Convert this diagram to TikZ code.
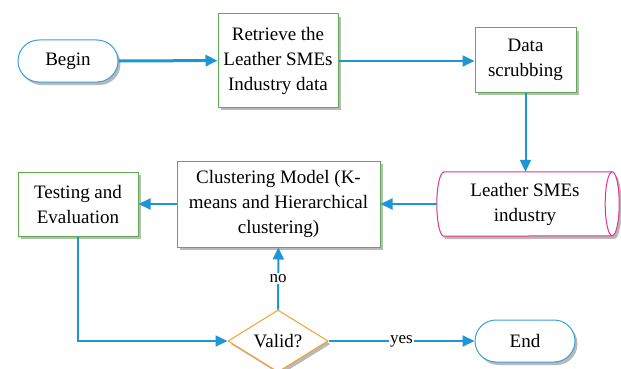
\documentclass[tikz,border=0pt]{standalone}
\usepackage{fontspec}
\setmainfont{Liberation Serif}
\usetikzlibrary{shapes.geometric,shapes.misc,arrows.meta,shadows,backgrounds}
\definecolor{cblue}{HTML}{1E96D4}
\definecolor{cgreen}{HTML}{5AAE50}
\definecolor{cpink}{HTML}{E0338A}
\definecolor{corange}{HTML}{F2A230}
\definecolor{cterm}{HTML}{3AA0DC}
\tikzset{
  shad/.style={drop shadow={shadow xshift=2.5pt,shadow yshift=-3pt,opacity=0.5,fill=black!55}},
  txt/.style={font=\fontsize{19}{25}\selectfont, align=center, inner sep=0pt},
  procbox/.style={txt, draw=cgreen, line width=1pt, fill=white, shad},
  termbox/.style={txt, draw=cterm, line width=1pt, fill=white, rounded corners=21pt, minimum width=100pt, minimum height=42pt, shad},
  conn/.style={draw=cblue, line width=2pt, -{Triangle[length=12pt,width=11pt]}},
  lbl/.style={font=\fontsize{17}{20}\selectfont, fill=white, inner sep=1pt}
}
\begin{document}
\begin{tikzpicture}[x=1pt,y=-1pt]
\useasboundingbox (0,0) rectangle (621,369);
\node[termbox] (begin) at (68,61) {Begin};
\node[procbox, minimum width=120pt, minimum height=93pt] (retr) at (278,60.5) {Retrieve the\\Leather SMEs\\Industry data};
\node[procbox, minimum width=101pt, minimum height=64pt] (scrub) at (525.5,60) {Data\\scrubbing};
\node[txt, minimum width=182pt, minimum height=64pt] (cyl) at (528,204) {\hspace*{-6pt}Leather SMEs\\\hspace*{-6pt}industry};
\begin{scope}[on background layer]
\path[draw=cpink, line width=1pt, fill=white, shad]
  ([xshift=7pt]cyl.north west) -- ([xshift=-7pt]cyl.north east)
  arc[start angle=90, end angle=-90, x radius=7pt, y radius=32pt]
  -- ([xshift=7pt]cyl.south west)
  arc[start angle=270, end angle=90, x radius=7pt, y radius=32pt] -- cycle;
\draw[cpink, line width=1pt] ([xshift=-7pt]cyl.north east)
  arc[start angle=90, end angle=270, x radius=7pt, y radius=32pt];
\end{scope}
\node[procbox, minimum width=203pt, minimum height=86pt] (clus) at (278.5,204) {Clustering Model (K-\\means and Hierarchical\\clustering)};
\node[procbox, minimum width=120pt, minimum height=64pt] (test) at (78,204) {Testing and\\Evaluation};
\node[txt, diamond, draw=corange, line width=1pt, fill=white, shad, minimum width=100pt, minimum height=62pt, shape aspect=1.6] (valid) at (278,341) {Valid?};
\node[termbox] (end) at (525,341) {End};
\draw[conn, line width=3pt] (begin) -- (retr);
\draw[conn] (retr.east |- 0,61) -- (scrub.west |- 0,61);
\draw[conn] (scrub) -- (scrub |- cyl.north);
\draw[conn] (cyl) -- (clus);
\draw[conn] (clus) -- (test);
\draw[conn] (test) |- (valid);
\draw[conn] (valid) -- node[lbl] {no} (clus);
\draw[conn] (valid) -- node[lbl] {yes} (end);
\end{tikzpicture}
\end{document}
